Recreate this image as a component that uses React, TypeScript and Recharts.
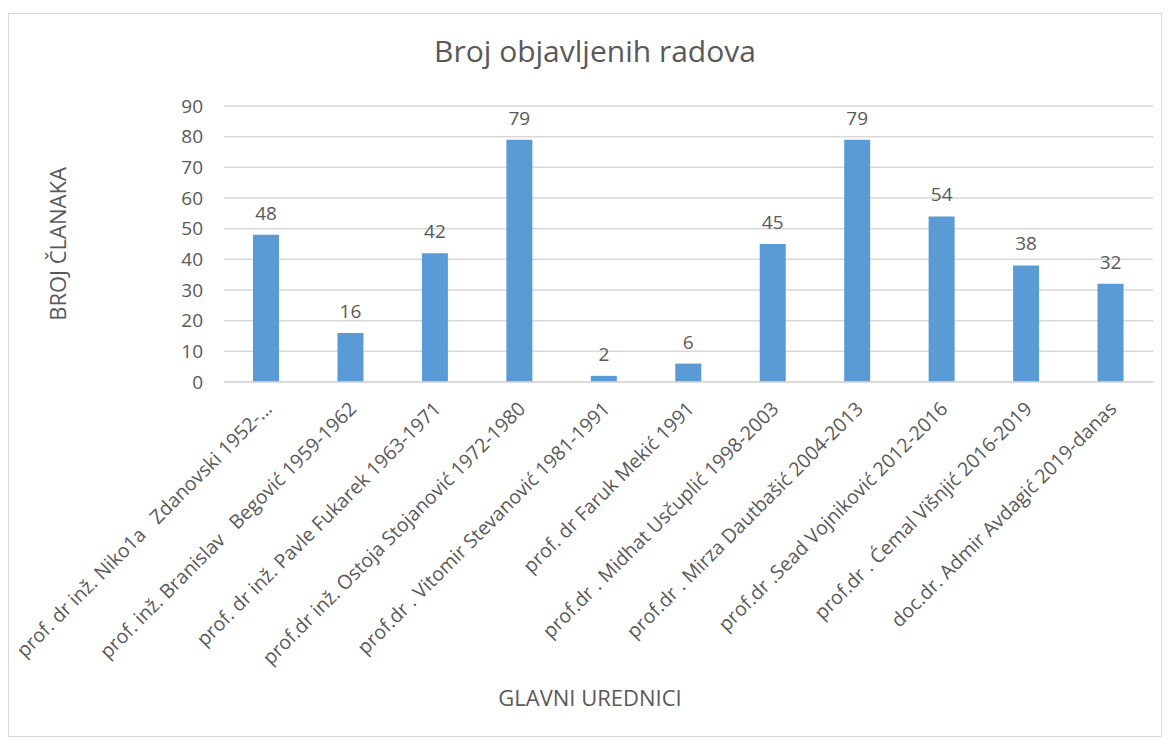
import React from 'react';
import { BarChart, Bar, XAxis, YAxis, CartesianGrid, LabelList } from 'recharts';

const editors = [
  'prof. dr inž. Niko1a   Zdanovski 1952-...',
  'prof. inž. Branislav   Begović 1959-1962',
  'prof. dr inž. Pavle Fukarek 1963-1971',
  'prof.dr inž. Ostoja Stojanović 1972-1980',
  'prof.dr . Vitomir Stevanović 1981-1991',
  'prof. dr Faruk Mekić 1991',
  'prof.dr . Midhat Usčuplić 1998-2003',
  'prof.dr . Mirza Dautbašić 2004-2013',
  'prof.dr .Sead Vojniković 2012-2016',
  'prof.dr . Ćemal Višnjić 2016-2019',
  'doc.dr. Admir Avdagić 2019-danas',
];
const articles = [48, 16, 42, 79, 2, 6, 45, 79, 54, 38, 32];
const yTicks = [0, 10, 20, 30, 40, 50, 60, 70, 80, 90];

const data = editors.map((name, i) => ({ name, value: articles[i] }));

const FONT = '"Open Sans", sans-serif';
const TEXT = '#595959';

const XTick = (props: any) => {
  const { x, y, payload } = props;
  const ax = x + 7;
  const ay = y + 20;
  return (
    <text
      x={ax}
      y={ay}
      transform={`rotate(-45, ${ax}, ${ay})`}
      textAnchor="end"
      fill={TEXT}
      fontSize={19.5}
      fontFamily={FONT}
      style={{ whiteSpace: 'pre' }}
    >
      {payload.value}
    </text>
  );
};

export default function App() {
  return (
    <div
      style={{
        position: 'relative',
        marginTop: 5,
        width: 1152,
        height: 722,
        border: '1px solid #d9d9d9',
        background: '#fff',
        fontFamily: FONT,
      }}
    >
      <div
        style={{
          position: 'absolute',
          top: 16,
          left: 0,
          width: 1172,
          textAlign: 'center',
          fontSize: 30,
          color: TEXT,
          whiteSpace: 'nowrap',
        }}
      >
        Broj objavljenih radova
      </div>
      <div
        style={{
          position: 'absolute',
          left: 48,
          top: 230,
          transform: 'translate(-50%, -50%) rotate(-90deg)',
          fontSize: 22,
          color: TEXT,
          whiteSpace: 'nowrap',
        }}
      >
        BROJ ČLANAKA
      </div>
      <div
        style={{
          position: 'absolute',
          left: 581,
          top: 683,
          transform: 'translate(-50%, -50%)',
          fontSize: 22,
          color: TEXT,
          whiteSpace: 'nowrap',
        }}
      >
        GLAVNI UREDNICI
      </div>
      <BarChart
        width={1152}
        height={722}
        data={data}
        margin={{ top: 92, right: 8, left: 0, bottom: 0 }}
        style={{ position: 'absolute', top: 0, left: 0, overflow: 'visible' }}
      >
        <CartesianGrid vertical={false} stroke="#d9d9d9" strokeWidth={1.5} />
        <XAxis
          dataKey="name"
          interval={0}
          height={354}
          tickLine={false}
          axisLine={{ stroke: '#d9d9d9', strokeWidth: 1.5 }}
          tick={<XTick />}
        />
        <YAxis
          width={215}
          domain={[0, 90]}
          ticks={yTicks}
          interval={0}
          tickLine={false}
          axisLine={false}
          tickMargin={15}
          tick={{ fill: TEXT, fontSize: 19, fontFamily: FONT }}
        />
        <Bar dataKey="value" fill="#5B9BD5" barSize={26} isAnimationActive={false}>
          <LabelList dataKey="value" position="top" offset={15} fill={TEXT} fontSize={19} fontFamily={FONT} />
        </Bar>
      </BarChart>
    </div>
  );
}
